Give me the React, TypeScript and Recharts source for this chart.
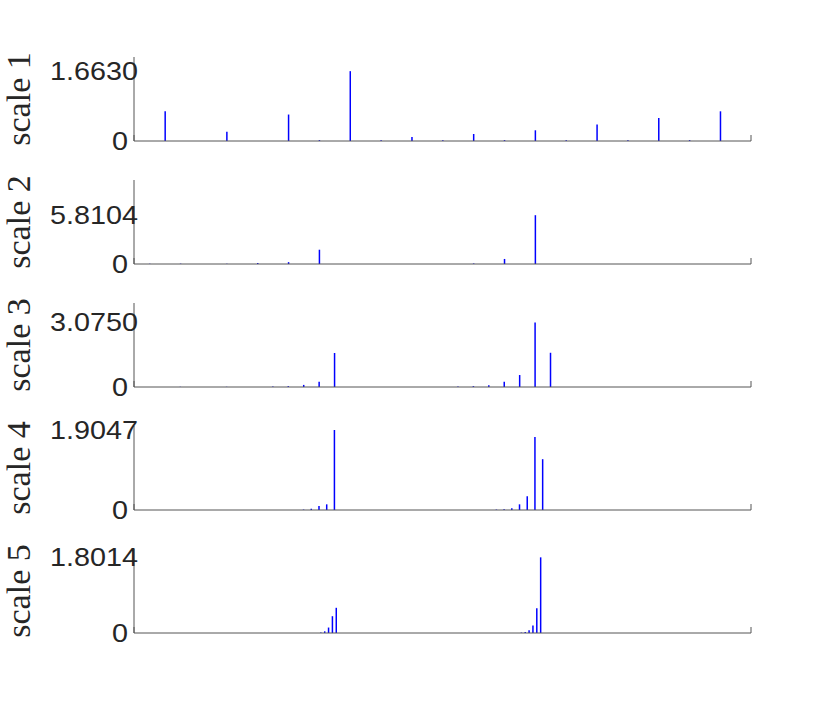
import { BarChart, Bar, XAxis, YAxis } from "recharts";

// stem positions (sample index) and heights for each scale
const SCALE1_IDX = [1, 3, 5, 6, 7, 8, 9, 10, 11, 12, 13, 14, 15, 16, 17, 18, 19];
const SCALE1_VAL = [0.707, 0.22, 0.63, 0.02, 1.663, 0.02, 0.095, 0.02, 0.167, 0.02, 0.255, 0.02, 0.39, 0.02, 0.55, 0.02, 0.707];

const SCALE2_IDX = [1, 3, 6, 8, 10, 12, 22, 24, 26];
const SCALE2_VAL = [0.04, 0.04, 0.04, 0.12, 0.22, 1.7, 0.06, 0.6, 5.8104];

const SCALE3_IDX = [3, 6, 9, 10, 11, 12, 13, 21, 22, 23, 24, 25, 26, 27];
const SCALE3_VAL = [0.01, 0.01, 0.02, 0.04, 0.1, 0.25, 1.62, 0.02, 0.04, 0.08, 0.25, 0.57, 3.075, 1.63];

const SCALE4_IDX = [22, 23, 24, 25, 26, 47, 48, 49, 50, 51, 52, 53];
const SCALE4_VAL = [0.01, 0.03, 0.095, 0.135, 1.9047, 0.01, 0.02, 0.04, 0.135, 0.33, 1.74, 1.21];

const SCALE5_IDX = [49, 50, 51, 52, 53, 101, 102, 103, 104, 105, 106];
const SCALE5_VAL = [0.01, 0.04, 0.13, 0.4, 0.6, 0.01, 0.025, 0.065, 0.18, 0.59, 1.8014];

const SCALE_NAMES = ["scale 1", "scale 2", "scale 3", "scale 4", "scale 5"];
const SCALE_MAX = [1.663, 5.8104, 3.075, 1.9047, 1.8014];
const SCALE_YLIM = [2, 10, 4, 2, 2];
const SCALE_XLIM: [number, number][] = [[0, 20], [0, 40], [0, 40], [0, 80], [0.5, 160.5]];

const PANELS = [
  [SCALE1_IDX, SCALE1_VAL],
  [SCALE2_IDX, SCALE2_VAL],
  [SCALE3_IDX, SCALE3_VAL],
  [SCALE4_IDX, SCALE4_VAL],
  [SCALE5_IDX, SCALE5_VAL],
];

const AXIS_COLOR = "#555555";
const TEXT_COLOR = "#262626";

function YTick(props: any) {
  const { y, payload } = props;
  const v = payload.value as number;
  const ax = v === 0 ? 128 : 138;
  return (
    <text
      transform={`translate(${ax},${y + 9}) scale(1.15,1)`}
      textAnchor="end"
      fontFamily="'Liberation Sans', Arial, sans-serif"
      fontSize={25}
      fill={TEXT_COLOR}
    >
      {v === 0 ? "0" : v.toFixed(4)}
    </text>
  );
}

// small upward tick mark at the ends of the x axis
function XTick(props: any) {
  const { x, y } = props;
  return <line x1={x} x2={x} y1={y} y2={y - 6} stroke={AXIS_COLOR} strokeWidth={1} />;
}

function Panel({ index }: { index: number }) {
  const [idx, val] = PANELS[index];
  const data = idx.map((x, i) => ({ x, y: val[i] }));
  const [x0, x1] = SCALE_XLIM[index];
  const name = SCALE_NAMES[index];

  return (
    <BarChart
      width={830}
      height={123}
      data={data}
      margin={{ top: 10, right: 79, bottom: 9, left: 74 }}
      barSize={1.5}
    >
      <XAxis
        dataKey="x"
        type="number"
        domain={[x0, x1]}
        ticks={[x0, x1]}
        allowDataOverflow
        height={20}
        tickSize={0}
        tickMargin={0}
        tickLine={false}
        tick={<XTick />}
        axisLine={{ stroke: AXIS_COLOR }}
      />
      <YAxis
        type="number"
        domain={[0, SCALE_YLIM[index]]}
        ticks={[0, SCALE_MAX[index]]}
        interval={0}
        width={60}
        tickLine={false}
        axisLine={{ stroke: AXIS_COLOR }}
        tick={<YTick />}
        label={() => (
          <text
            x={30}
            y={52}
            transform="rotate(-90, 30, 52)"
            textAnchor="middle"
            fontFamily="'Liberation Serif', 'Times New Roman', serif"
            fontSize={34}
            fill={TEXT_COLOR}
          >
            {name}
          </text>
        )}
      />
      <Bar dataKey="y" fill="#0000ff" isAnimationActive={false} />
    </BarChart>
  );
}

export default function App() {
  return (
    <div
      style={{
        position: "absolute",
        left: 0,
        top: 0,
        width: 830,
        height: 712,
        background: "#ffffff",
        paddingTop: 47,
        boxSizing: "border-box",
      }}
    >
      {SCALE_NAMES.map((_, i) => (
        <Panel key={i} index={i} />
      ))}
    </div>
  );
}
